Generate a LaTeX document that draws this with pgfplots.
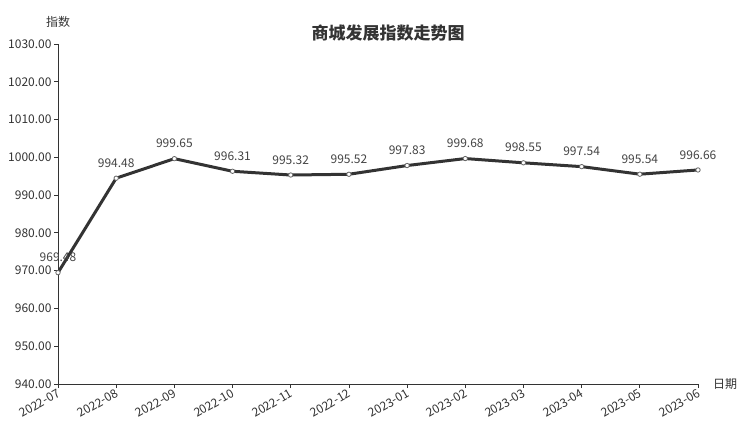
\documentclass[border=0pt]{standalone}
\usepackage{pgfplots}
\pgfplotsset{compat=1.18}
\usepackage{fontspec}
\setmainfont{Noto Sans CJK SC}
\definecolor{txt}{HTML}{333333}
\definecolor{lbl}{HTML}{444444}
\begin{document}
\begin{tikzpicture}[x=1bp,y=1bp]
\path[use as bounding box] (0,0) rectangle (753,426);
\begin{axis}[
  at={(58bp,42bp)}, anchor=south west,
  scale only axis, width=640bp, height=340bp,
  xmin=0, xmax=11, ymin=940, ymax=1030,
  xtick={0,...,11},
  xticklabels={2022-07,2022-08,2022-09,2022-10,2022-11,2022-12,2023-01,2023-02,2023-03,2023-04,2023-05,2023-06},
  x tick label style={rotate=30, anchor=east, font=\fontsize{12bp}{14bp}\selectfont, text=txt, yshift=-4bp, xshift=2bp},
  ytick={940,950,...,1030},
  y tick label style={font=\fontsize{12bp}{14bp}\selectfont, text=txt, xshift=1bp},
  /pgf/number format/assume math mode=true,
  yticklabel style={/pgf/number format/.cd, fixed, fixed zerofill, precision=2, 1000 sep={}},
  axis x line*=bottom, axis y line*=left,
  axis line style={txt, line width=0.8pt},
  tick style={txt, line width=0.8pt},
  tick align=outside, major tick length=4bp,
  clip=false,
  nodes near coords,
  point meta=explicit symbolic,
  every node near coord/.append style={font=\fontsize{12bp}{14bp}\selectfont, text=lbl, anchor=south, yshift=7bp},
]
\addplot[color=txt, line width=3bp, mark=*, mark size=2.2bp, mark options={fill=white, draw=gray!80!black, line width=0.8bp}]
  table[meta=l] {
x y l
0 969.48 969.48
1 994.48 994.48
2 999.65 999.65
3 996.31 996.31
4 995.32 995.32
5 995.52 995.52
6 997.83 997.83
7 999.68 999.68
8 998.55 998.55
9 997.54 997.54
10 995.54 995.54
11 996.66 996.66
};
\end{axis}
\node[font=\bfseries\fontsize{17bp}{20bp}\selectfont, text=txt] at (388,393) {商城发展指数走势图};
\node[font=\fontsize{12bp}{14bp}\selectfont, text=txt] at (58,404) {指数};
\node[font=\fontsize{12bp}{14bp}\selectfont, text=txt] at (725,42) {日期};
\end{tikzpicture}
\end{document}
